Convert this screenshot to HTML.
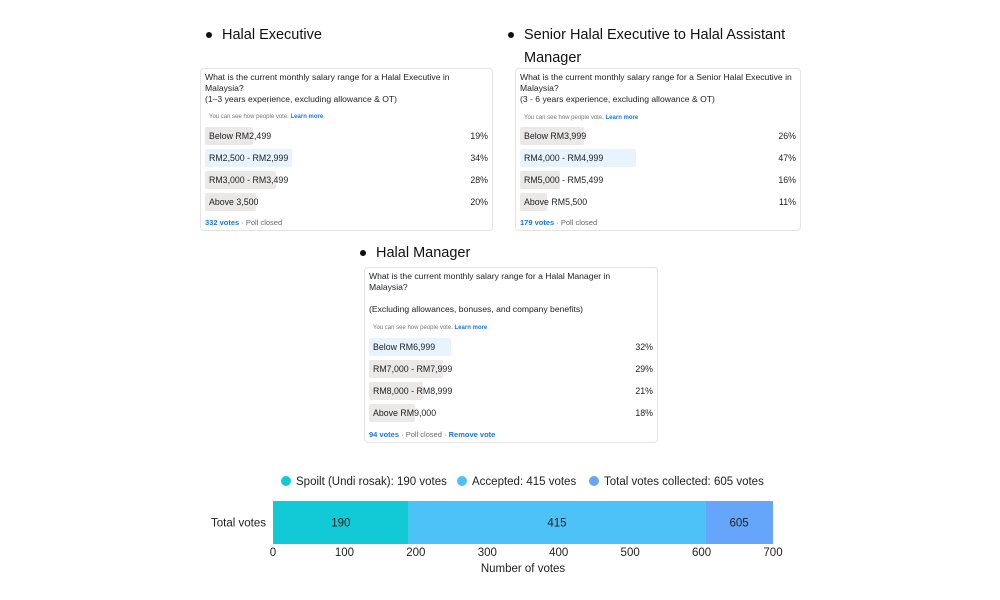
<!DOCTYPE html>
<html><head><meta charset="utf-8"><style>
body{margin:0;width:1000px;height:600px;background:#fff;font-family:"Liberation Sans",sans-serif;position:relative;overflow:hidden}
.h{position:absolute;font-size:14.5px;color:#111;line-height:23px}
.h:before{content:"";position:absolute;left:-16px;top:8px;width:6px;height:6px;border-radius:50%;background:#111}
.poll{position:absolute;border:1px solid #e4e4e4;border-radius:4px;background:#fff;box-sizing:border-box}
.q{position:absolute;left:4px;top:3px;font-size:8.6px;line-height:11px;color:#1c1e21}
.see{position:absolute;left:8px;font-size:6px;color:#777}
.see b{color:#1877f2}
.row{position:absolute;left:4px;right:4px;height:18px}
.bar{position:absolute;left:0;top:0;height:18px;background:#ebe8e8;border-radius:2px}
.bar.max{background:#e7f3ff}
.lab{position:absolute;left:4px;top:4px;font-size:8.8px;color:#1c1e21}
.pct{position:absolute;right:0;top:4px;font-size:8.8px;color:#1c1e21}
.foot{position:absolute;left:4px;font-size:7.5px;color:#666}
.foot b{color:#1877f2}
.leg{position:absolute;top:476px;font-size:11.5px;color:#222}
.leg i{display:inline-block;width:10px;height:10px;border-radius:50%;vertical-align:-1px;margin-right:5px}
</style></head><body>
<div class="h" style="left:222px;top:24px">Halal Executive</div>
<div class="h" style="left:524px;top:24px;width:285px">Senior Halal Executive to Halal Assistant Manager</div>
<div class="h" style="left:376px;top:242px">Halal Manager</div>
<div id="polls"></div>
<div class="leg" style="left:281px"><i style="background:#12c9d6"></i>Spoilt (Undi rosak): 190 votes</div>
<div class="leg" style="left:457px"><i style="background:#4cc2f8"></i>Accepted: 415 votes</div>
<div class="leg" style="left:589px"><i style="background:#66a6fa"></i>Total votes collected: 605 votes</div>
<svg id="chart" width="1000" height="600" style="position:absolute;left:0;top:0"></svg>
<script>
const polls=[
{x:200,y:68,w:293,h:163,scale:2.55,q:"What is the current monthly salary range for a Halal Executive in<br>Malaysia?<br>(1–3 years experience, excluding allowance &amp; OT)",see:117,rows:[126,148,170,192],foot:222,footText:"<b>332 votes</b> · Poll closed",name:"poll-halal-executive"},
{x:515,y:68,w:286,h:163,scale:2.47,q:"What is the current monthly salary range for a Senior Halal Executive in<br>Malaysia?<br>(3 - 6 years experience, excluding allowance &amp; OT)",see:118,rows:[126,148,170,192],foot:222,footText:"<b>179 votes</b> · Poll closed",name:"poll-senior-halal-executive"},
{x:364,y:267,w:294,h:176,scale:2.56,q:"What is the current monthly salary range for a Halal Manager in<br>Malaysia?<br><br>(Excluding allowances, bonuses, and company benefits)",see:328,rows:[337,359,381,403],foot:434,footText:"<b>94 votes</b> · Poll closed · <b>Remove vote</b>",name:"poll-halal-manager"}];
const pollLabels=[["Below RM2,499","RM2,500 - RM2,999","RM3,000 - RM3,499","Above 3,500"],["Below RM3,999","RM4,000 - RM4,999","RM5,000 - RM5,499","Above RM5,500"],["Below RM6,999","RM7,000 - RM7,999","RM8,000 - RM8,999","Above RM9,000"]];
const pollPcts=[[19,34,28,20],[26,47,16,11],[32,29,21,18]];
const wrap=document.getElementById('polls');
polls.forEach((p,i)=>{
 const d=document.createElement('div');d.className='poll';
 
 
 d.style.cssText=`left:${p.x}px;top:${p.y}px;width:${p.w}px;height:${p.h}px`;
 let html=`<div class="q">${p.q}</div><div class="see" style="top:${p.see-p.y-4}px">You can see how people vote. <b>Learn more</b></div>`;
 const mx=Math.max(...pollPcts[i]);
 pollLabels[i].forEach((l,j)=>{
  const v=pollPcts[i][j];
  html+=`<div class="row" style="top:${p.rows[j]-p.y}px"><div class="bar${v===mx?' max':''}" style="width:${v*p.scale}px"></div><span class="lab">${l}</span><span class="pct">${v}%</span></div>`;
 });
 html+=`<div class="foot" style="top:${p.foot-p.y-5}px">${p.footText}</div>`;
 d.innerHTML=html;wrap.appendChild(d);
});
const categories=["Total votes"];
const segValues=[190,415];
const segLabels=["190","415"];
const totalValue=605;
const ticks=[0,100,200,300,400,500,600,700];
const colors=["#12c9d6","#4cc2f8","#66a6fa"];
const x0=273,x1=773,xMax=700,barY=501,barH=43;
const sx=v=>x0+v/xMax*(x1-x0);
const svg=document.getElementById('chart');const NS="http://www.w3.org/2000/svg";
const FF='Liberation Sans, sans-serif';
function mk(t,a,txt){const e=document.createElementNS(NS,t);for(const k in a)e.setAttribute(k,a[k]);if(txt!=null)e.textContent=txt;svg.appendChild(e);return e;}
let cum=0;
segValues.forEach((v,i)=>{
 const r=mk('rect',{x:sx(cum),y:barY,width:sx(cum+v)-sx(cum),height:barH,fill:colors[i]});
 
 
 const t=mk('text',{x:(sx(cum)+sx(cum+v))/2,y:barY+barH/2+4,'text-anchor':'middle','font-size':11.5,fill:'#222','font-family':FF},segLabels[i]);
 
 
 cum+=v;
});
const rt=mk('rect',{x:sx(totalValue),y:barY,width:sx(xMax)-sx(totalValue),height:barH,fill:colors[2]});


const tt=mk('text',{x:(sx(totalValue)+sx(xMax))/2,y:barY+barH/2+4,'text-anchor':'middle','font-size':11.5,fill:'#222','font-family':FF},String(totalValue));


const cl=mk('text',{x:266,y:barY+barH/2+4,'text-anchor':'end','font-size':11.5,fill:'#222','font-family':FF},categories[0]);


ticks.forEach(t=>{
 const e=mk('text',{x:sx(t),y:556,'text-anchor':'middle','font-size':11.5,fill:'#222','font-family':FF},String(t));
 
 
});
const xt=mk('text',{x:523,y:572,'text-anchor':'middle','font-size':11.5,fill:'#222','font-family':FF},'Number of votes');


</script>
</body></html>
